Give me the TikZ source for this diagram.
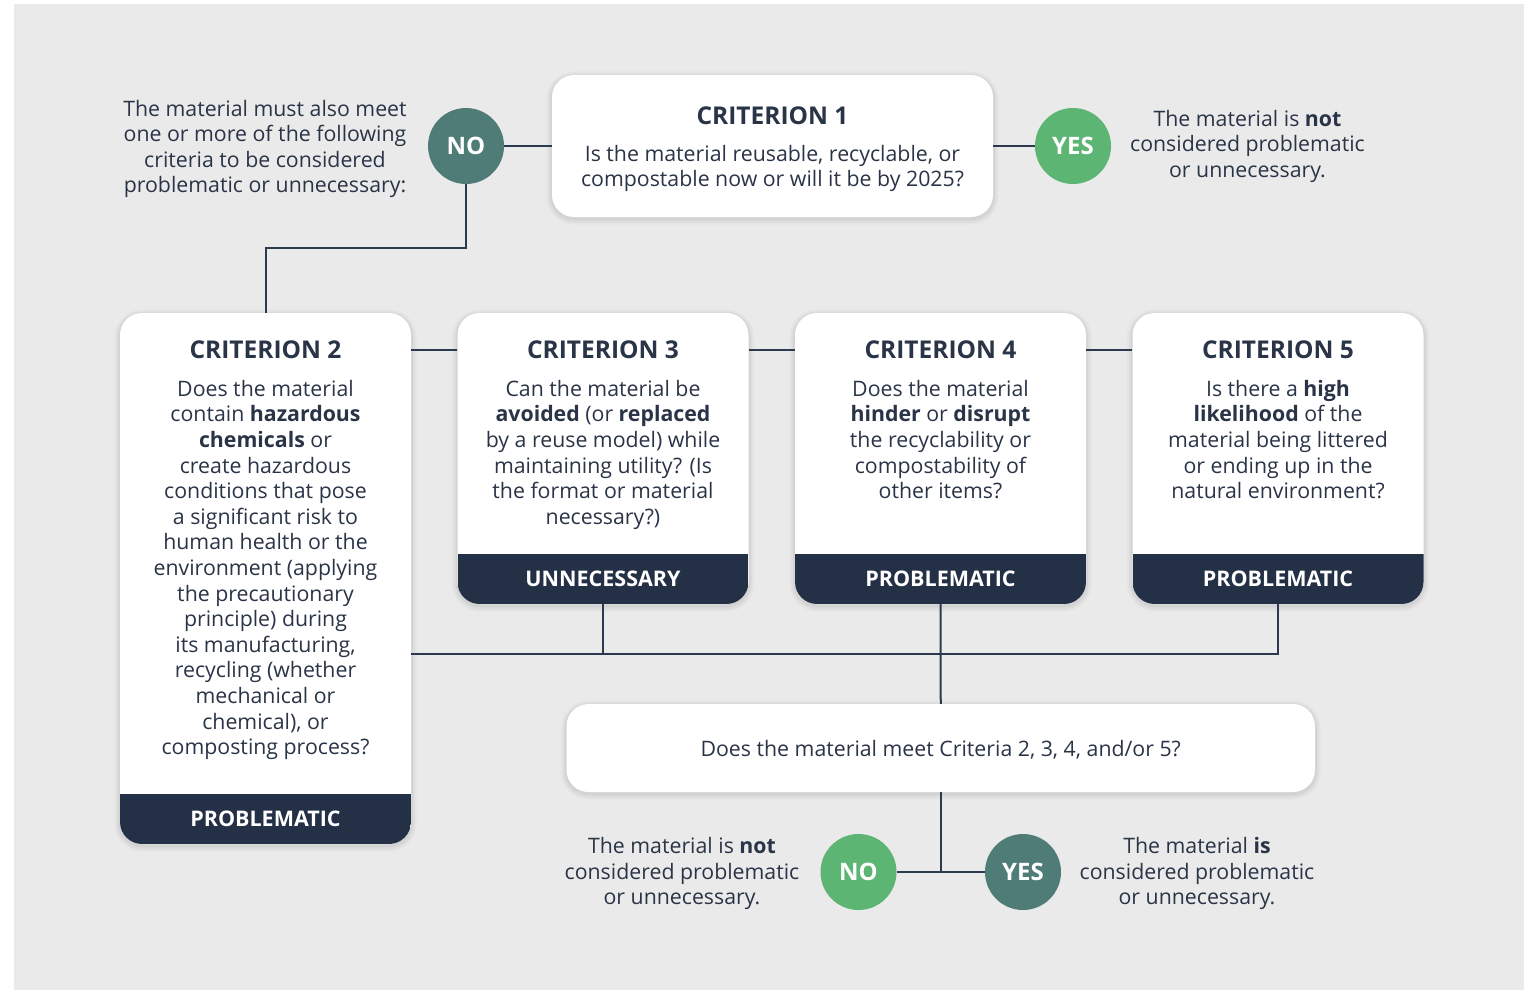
\documentclass[tikz,border=0pt]{standalone}
\usepackage{fontspec}
\setmainfont{Open Sans}
\definecolor{bgc}{HTML}{EAEAEA}
\definecolor{ink}{HTML}{2A3447}
\definecolor{bandc}{HTML}{243046}
\definecolor{linec}{HTML}{2C3A50}
\definecolor{tealc}{HTML}{4F7C77}
\definecolor{greenc}{HTML}{5DB574}
\begin{document}
\begin{tikzpicture}[x=1pt,y=-1pt,
  txt/.style={text=ink, inner sep=0pt, font=\fontsize{21.3}{25.6}\selectfont},
  para/.style={txt, align=center, anchor=north, yshift=16pt, execute at begin node=\strut},
  crittitle/.style={text=ink, inner sep=0pt, anchor=base, font=\fontsize{24.5}{29}\selectfont\bfseries},
  bandlabel/.style={text=white, inner sep=0pt, font=\fontsize{21.5}{26}\selectfont\bfseries},
  circ/.style={circle, minimum size=76pt, inner sep=0pt, text=white, font=\fontsize{24}{28}\selectfont\bfseries},
  box/.style={fill=white, rounded corners=22pt, inner sep=0pt,
    preaction={draw=black, line width=11pt, draw opacity=0.025, transform canvas={yshift=-2pt}},
    preaction={draw=black, line width=7pt, draw opacity=0.03, transform canvas={yshift=-2pt}},
    preaction={draw=black, line width=3.5pt, draw opacity=0.04, transform canvas={yshift=-1.5pt}}},
  critbox/.style={box, minimum width=291pt,
    path picture={\fill[bandc, sharp corners] ([yshift=50pt]path picture bounding box.south west) rectangle (path picture bounding box.south east);}},
  conn/.style={draw=linec, line width=2pt}
]
\useasboundingbox (0,0) rectangle (1526,990);
\fill[bgc] (14,4) rectangle (1524,990);

% top row
\node[circ, fill=tealc] (no1) at (466,146) {NO};
\node[box, minimum width=441pt, minimum height=142pt] (c1) at (772.5,146) {};
\node[circ, fill=greenc] (yes1) at (1073,146) {YES};
\node[crittitle] (t1) at (772.5,124.3) {CRITERION 1};
\node[para] (b1) at (772.5,161) {Is the material reusable, recyclable, or\\compostable now or will it be by 2025?};
\node[para] (tl) at (265,115.7) {The material must also meet\\one or more of the following\\criteria to be considered\\problematic or unnecessary:};
\node[para] (tr) at (1247.5,126) {The material is \textbf{not}\\considered problematic\\or unnecessary.};

% criteria row
\node[critbox, minimum height=531pt] (c2) at (265.5,578.5) {};
\node[critbox, minimum height=291pt] (c3) at (603,458.5) {};
\node[critbox, minimum height=291pt] (c4) at (940.5,458.5) {};
\node[critbox, minimum height=291pt] (c5) at (1278,458.5) {};

\node[crittitle] (t2) at (265.5,358.3) {CRITERION 2};
\node[crittitle] (t3) at (603,358.3) {CRITERION 3};
\node[crittitle] (t4) at (940.5,358.3) {CRITERION 4};
\node[crittitle] (t5) at (1278,358.3) {CRITERION 5};

\node[para] (b2) at (265.5,396) {Does the material\\contain \textbf{hazardous}\\\textbf{chemicals} or\\create hazardous\\conditions that pose\\a significant risk to\\human health or the\\environment (applying\\the precautionary\\principle) during\\its manufacturing,\\recycling (whether\\mechanical or\\chemical), or\\composting process?};
\node[para] (b3) at (603,396) {Can the material be\\\textbf{avoided} (or \textbf{replaced}\\by a reuse model) while\\maintaining utility? (Is\\the format or material\\necessary?)};
\node[para] (b4) at (940.5,396) {Does the material\\\textbf{hinder} or \textbf{disrupt}\\the recyclability or\\compostability of\\other items?};
\node[para] (b5) at (1278,396) {Is there a \textbf{high}\\\textbf{likelihood} of the\\material being littered\\or ending up in the\\natural environment?};

\node[bandlabel] (l2) at ([yshift=25pt]c2.south) {PROBLEMATIC};
\node[bandlabel] (l3) at ([yshift=25pt]c3.south) {UNNECESSARY};
\node[bandlabel] (l4) at ([yshift=25pt]c4.south) {PROBLEMATIC};
\node[bandlabel] (l5) at ([yshift=25pt]c5.south) {PROBLEMATIC};

% question
\node[box, minimum width=748.5pt, minimum height=88pt] (q) at (940.75,748) {};
\node[txt, anchor=base] (qt) at (940.75,756.5) {Does the material meet Criteria 2, 3, 4, and/or 5?};

\node[circ, fill=greenc] (no2) at (858.5,872) {NO};
\node[circ, fill=tealc] (yes2) at (1023,872) {YES};
\node[para] (bl) at (682,853.3) {The material is \textbf{not}\\considered problematic\\or unnecessary.};
\node[para] (br) at (1197,853.3) {The material \textbf{is}\\considered problematic\\or unnecessary.};

% connectors
\coordinate (j) at (940.5,654);
\draw[conn] (no1.east) -- (c1.west);
\draw[conn] (c1.east) -- (yes1.west);
\draw[conn] (no1.south) -- (no1.south |- 0,248) -| (c2.north);
\draw[conn] (c2.east |- t2.center) -- (c3.west |- t2.center);
\draw[conn] (c3.east |- t3.center) -- (c4.west |- t3.center);
\draw[conn] (c4.east |- t4.center) -- (c5.west |- t4.center);
\draw[conn] (c2.east |- j) -| (c5.south);
\draw[conn] (c3.south) -- (c3.south |- j);
\draw[conn] (c4.south) -- (q.north);
\draw[conn] (q.south) -- (q.south |- no2.east);
\draw[conn] (no2.east) -- (yes2.west);
\end{tikzpicture}
\end{document}
